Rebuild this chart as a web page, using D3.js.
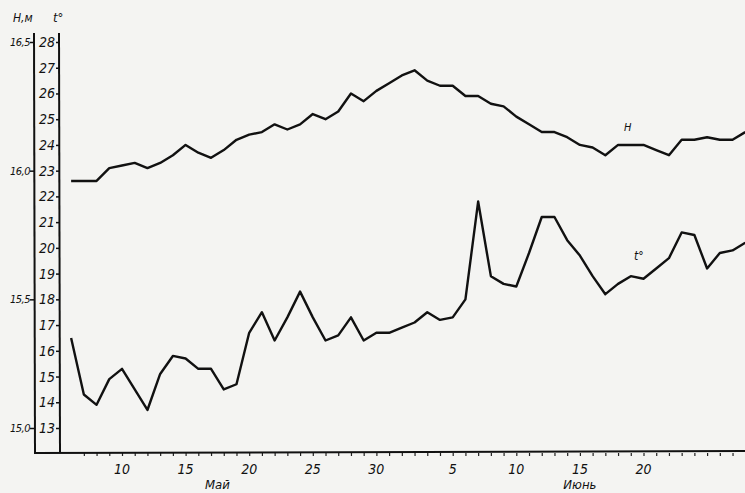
<!DOCTYPE html>
<html>
<head>
<meta charset="utf-8">
<script src="https://cdn.jsdelivr.net/npm/d3@7"></script>
<style>
	body { margin: 0; background: #f4f4f2; }
	svg text { font-family: "Liberation Sans Narrow", "DejaVu Sans Condensed", sans-serif; font-style: italic; fill: #111; }
</style>
</head>
<body>
<script>
// days counted from 1 May (June 1 = 32)
var days = d3.range(6, 60);

// water temperature, t °C
var tempValues = [16.5, 14.3, 13.9, 14.9, 15.3, 14.5, 13.7, 15.1, 15.8, 15.7,
	15.3, 15.3, 14.5, 14.7, 16.7, 17.5, 16.4, 17.3, 18.3, 17.3,
	16.4, 16.6, 17.3, 16.4, 16.7, 16.7, 16.9, 17.1, 17.5, 17.2,
	17.3, 18.0, 21.8, 18.9, 18.6, 18.5, 19.8, 21.2, 21.2, 20.3,
	19.7, 18.9, 18.2, 18.6, 18.9, 18.8, 19.2, 19.6, 20.6, 20.5,
	19.2, 19.8, 19.9, 20.2];

// water level, H m
var levelValues = [15.96, 15.96, 15.96, 16.01, 16.02, 16.03, 16.01, 16.03, 16.06, 16.10,
	16.07, 16.05, 16.08, 16.12, 16.14, 16.15, 16.18, 16.16, 16.18, 16.22,
	16.20, 16.23, 16.30, 16.27, 16.31, 16.34, 16.37, 16.39, 16.35, 16.33,
	16.33, 16.29, 16.29, 16.26, 16.25, 16.21, 16.18, 16.15, 16.15, 16.13,
	16.10, 16.09, 16.06, 16.10, 16.10, 16.10, 16.08, 16.06, 16.12, 16.12,
	16.13, 16.12, 16.12, 16.15];

var tempTicks = d3.range(13, 29);
var levelTicks = [15.0, 15.5, 16.0, 16.5];
var levelTickLabels = ["15,0", "15,5", "16,0", "16,5"];
var dayTicks = [10, 15, 20, 25, 30, 36, 41, 46, 51];
var dayTickLabels = ["10", "15", "20", "25", "30", "5", "10", "15", "20"];
var monthDays = [17.5, 46];
var monthLabels = ["Май", "Июнь"];

(function(){
	var svg = d3.select("body")
			.append("svg")
			.attr("width", 745)
			.attr("height", 493);

	var x = d3.scaleLinear().domain([10, 51]).range([122, 643.5]);
	var yT = d3.scaleLinear().domain([13, 28]).range([428, 42]);
	var yH = d3.scaleLinear().domain([15, 16.5]).range([428, 42]);

	var baseY = 453,
		axisH = 34,
		axisT = 59;

	// bottom axis: a tick every day, labels every 5
	svg.append("g")
		.attr("transform", "translate(0," + baseY + ")")
		.call(d3.axisBottom(x).tickValues(d3.range(7, 60)).tickSize(3).tickFormat(""))
		.call(function(g){
			g.select(".domain").remove();
			g.selectAll("line").attr("stroke", "#222").attr("stroke-width", 1.2);
		});
	svg.append("path")
		.attr("d", "M " + axisH + " " + baseY + " L 745 " + (baseY - 2))
		.attr("stroke", "#111")
		.attr("stroke-width", 2)
		.attr("fill", "none");

	svg.selectAll("text.day")
		.data(dayTicks)
		.enter().append("text")
		.attr("class", "day")
		.attr("x", function(d){ return x(d); })
		.attr("y", 474)
		.attr("text-anchor", "middle")
		.attr("font-size", 14)
		.text(function(d, i){ return dayTickLabels[i]; });

	svg.selectAll("text.month")
		.data(monthDays)
		.enter().append("text")
		.attr("class", "month")
		.attr("x", function(d){ return x(d); })
		.attr("y", 489)
		.attr("text-anchor", "middle")
		.attr("font-size", 13)
		.text(function(d, i){ return monthLabels[i]; });

	// the two vertical axes
	[axisH, axisT].forEach(function(ax){
		svg.append("path")
			.attr("d", "M " + ax + " 33 L " + (ax + 1) + " " + baseY)
			.attr("stroke", "#111")
			.attr("stroke-width", 2)
			.attr("fill", "none");
	});

	svg.append("g")
		.attr("transform", "translate(" + axisT + ",0)")
		.call(d3.axisLeft(yT).tickValues(tempTicks).tickSize(3).tickFormat(""))
		.call(function(g){
			g.select(".domain").remove();
			g.selectAll("line").attr("stroke", "#111").attr("stroke-width", 1.5);
		});
	svg.selectAll("text.t")
		.data(tempTicks)
		.enter().append("text")
		.attr("class", "t")
		.attr("x", 47)
		.attr("y", function(d){ return yT(d) + 5; })
		.attr("text-anchor", "middle")
		.attr("font-size", 14)
		.text(function(d){ return d; });

	svg.append("g")
		.attr("transform", "translate(" + axisH + ",0)")
		.call(d3.axisLeft(yH).tickValues(levelTicks).tickSize(4).tickFormat(""))
		.call(function(g){
			g.select(".domain").remove();
			g.selectAll("line").attr("stroke", "#111").attr("stroke-width", 1.5);
		});
	svg.selectAll("text.h")
		.data(levelTicks)
		.enter().append("text")
		.attr("class", "h")
		.attr("x", 30)
		.attr("y", function(d){ return yH(d) + 4; })
		.attr("text-anchor", "end")
		.attr("font-size", 11)
		.attr("letter-spacing", -0.5)
		.text(function(d, i){ return levelTickLabels[i]; });

	svg.append("text").attr("x", 13).attr("y", 22).attr("font-size", 12).text("H,м");
	svg.append("text").attr("x", 53).attr("y", 22).attr("font-size", 13).text("t°");

	// series
	var lineT = d3.line()
			.x(function(d){ return x(d); })
			.y(function(d, i){ return yT(tempValues[i]); });
	var lineH = d3.line()
			.x(function(d){ return x(d); })
			.y(function(d, i){ return yH(levelValues[i]); });

	svg.append("path")
		.attr("d", lineH(days))
		.attr("fill", "none")
		.attr("stroke", "#111")
		.attr("stroke-width", 2.4)
		.attr("stroke-linejoin", "round");
	svg.append("path")
		.attr("d", lineT(days))
		.attr("fill", "none")
		.attr("stroke", "#111")
		.attr("stroke-width", 2.4)
		.attr("stroke-linejoin", "round");

	svg.append("text").attr("x", 624).attr("y", 131).attr("font-size", 11).text("H");
	svg.append("text").attr("x", 634).attr("y", 260).attr("font-size", 12).text("t°");
})();
</script>
</body>
</html>
